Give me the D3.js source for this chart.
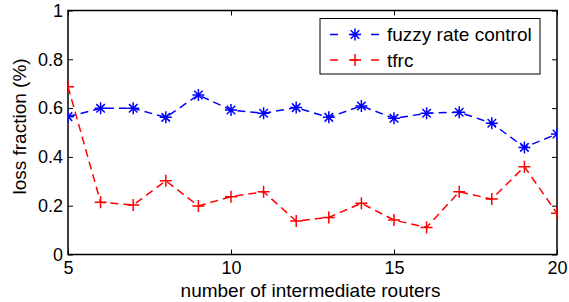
<!DOCTYPE html>
<html>
<head>
<meta charset="utf-8">
<script src="https://cdn.jsdelivr.net/npm/d3@7"></script>
<style>
  body { margin: 0; background: #fff; }
  text { font-family: "Liberation Sans", Arial, sans-serif; }
</style>
</head>
<body>
<div id="graf"></div>
<script>
// Datos
const routers = [5, 6, 7, 8, 9, 10, 11, 12, 13, 14, 15, 16, 17, 18, 19, 20];
const fuzzy = [0.565, 0.599, 0.599, 0.562, 0.654, 0.592, 0.579, 0.602, 0.562, 0.609, 0.558, 0.579, 0.583, 0.538, 0.439, 0.494];
const tfrc = [0.688, 0.214, 0.203, 0.302, 0.199, 0.237, 0.257, 0.137, 0.152, 0.21, 0.141, 0.111, 0.257, 0.227, 0.36, 0.169];
const xTicks = [5, 10, 15, 20];
const yTicks = [0, 0.2, 0.4, 0.6, 0.8, 1];
const series = [
  { name: "fuzzy rate control", values: fuzzy, color: "#0000ff", marker: "star" },
  { name: "tfrc", values: tfrc, color: "#ff0000", marker: "plus" },
];

// Dimensiones
const anchoTotal = 569;
const altoTotal = 302;
const margins = { top: 10.5, right: 12, bottom: 47.5, left: 68 };
const ancho = anchoTotal - margins.left - margins.right;
const alto = altoTotal - margins.top - margins.bottom;

const svg = d3.select("#graf")
  .append("svg")
  .attr("width", anchoTotal)
  .attr("height", altoTotal);

const g = svg.append("g")
  .attr("transform", `translate(${margins.left}, ${margins.top})`);

const x = d3.scaleLinear().domain([5, 20]).range([0, ancho]);
const y = d3.scaleLinear().domain([0, 1]).range([alto, 0]);

svg.append("defs").append("clipPath").attr("id", "clip")
  .append("rect").attr("width", ancho).attr("height", alto);

// Ejes (ticks hacia dentro, en los cuatro lados)
const fmtY = (d) => (d === 0 || d === 1 ? d3.format("d")(d) : d3.format(".1f")(d));
const axisStyle = (sel) => {
  sel.select(".domain").remove();
  sel.selectAll("line").attr("stroke", "#000").attr("stroke-width", 1);
  sel.selectAll("text").attr("fill", "#000").style("font-size", "18px");
};

g.append("g").attr("transform", `translate(0, ${alto})`)
  .call(d3.axisBottom(x).tickValues(xTicks).tickSizeInner(-5).tickPadding(7))
  .call(axisStyle);
g.append("g")
  .call(d3.axisTop(x).tickValues(xTicks).tickSizeInner(-5).tickFormat(""))
  .call(axisStyle);
g.append("g")
  .call(d3.axisLeft(y).tickValues(yTicks).tickSizeInner(-5).tickPadding(5).tickFormat(fmtY))
  .call(axisStyle);
g.append("g").attr("transform", `translate(${ancho}, 0)`)
  .call(d3.axisRight(y).tickValues(yTicks).tickSizeInner(-5).tickFormat(""))
  .call(axisStyle);

g.append("rect")
  .attr("width", ancho).attr("height", alto)
  .attr("fill", "none").attr("stroke", "#000").attr("stroke-width", 1.5);

// Marcadores
const starPath = (s) => {
  const r = s / 2, d = r * 0.7071;
  return `M${-r},0L${r},0M0,${-r}L0,${r}M${-d},${-d}L${d},${d}M${-d},${d}L${d},${-d}`;
};
const plusPath = (s) => {
  const r = s / 2;
  return `M${-r},0L${r},0M0,${-r}L0,${r}`;
};
const markerPath = (m) => (m === "star" ? starPath(12) : plusPath(12));

const line = d3.line().x((d) => x(d[0])).y((d) => y(d[1]));

const plot = g.append("g").attr("clip-path", "url(#clip)");
series.forEach((s) => {
  const pts = routers.map((r, i) => [r, s.values[i]]);
  plot.append("path")
    .datum(pts)
    .attr("d", line)
    .attr("fill", "none")
    .attr("stroke", s.color)
    .attr("stroke-width", 1.5)
    .attr("stroke-dasharray", "8,5");
  plot.selectAll(null)
    .data(pts)
    .enter()
    .append("path")
    .attr("transform", (d) => `translate(${x(d[0])}, ${y(d[1])})`)
    .attr("d", markerPath(s.marker))
    .attr("stroke", s.color)
    .attr("stroke-width", 1.5)
    .attr("fill", "none");
});

// Leyenda
const leg = svg.append("g").attr("transform", "translate(320, 18.5)");
leg.append("rect")
  .attr("width", 220).attr("height", 55.5)
  .attr("fill", "#fff").attr("stroke", "#000").attr("stroke-width", 1);
series.forEach((s, i) => {
  const yy = 16 + i * 25.5;
  leg.append("line")
    .attr("x1", 10).attr("x2", 59).attr("y1", yy).attr("y2", yy)
    .attr("stroke", s.color).attr("stroke-width", 1.5)
    .attr("stroke-dasharray", "8,12.5");
  leg.append("path")
    .attr("transform", `translate(35, ${yy})`)
    .attr("d", markerPath(s.marker))
    .attr("stroke", s.color).attr("stroke-width", 1.5).attr("fill", "none");
  leg.append("text")
    .attr("x", 67).attr("y", yy).attr("dy", "0.35em")
    .style("font-size", "19px")
    .text(s.name);
});

// Etiquetas de ejes
svg.append("text")
  .attr("x", margins.left + ancho / 2 - 2).attr("y", 297)
  .attr("text-anchor", "middle")
  .style("font-size", "19px")
  .text("number of intermediate routers");
svg.append("text")
  .attr("transform", `translate(26, ${margins.top + alto / 2 - 6}) rotate(-90)`)
  .attr("text-anchor", "middle")
  .style("font-size", "19px")
  .text("loss fraction (%)");
</script>
</body>
</html>
